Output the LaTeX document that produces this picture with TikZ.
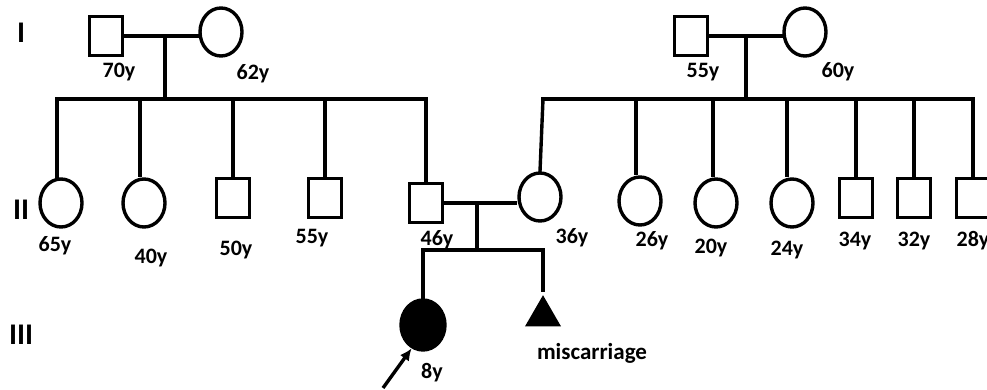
\documentclass[tikz,border=0pt]{standalone}
\usepackage{fontspec}
\setmainfont{Carlito}
\usetikzlibrary{shapes.geometric,arrows.meta}
\begin{document}
\begin{tikzpicture}[x=1pt,y=-1pt,
  line width=3.4pt,
  link/.style={line cap=rect},
  male/.style={draw, rectangle, minimum width=33pt, minimum height=39pt, inner sep=0pt},
  female/.style={draw, ellipse, minimum width=42pt, minimum height=48pt, inner sep=0pt},
  affected/.style={female, fill=black, minimum width=44pt, minimum height=50pt},
  loss/.style={regular polygon, regular polygon sides=3, minimum size=41.6pt, inner sep=0pt, fill=black},
  age/.style={font=\fontsize{22}{25}\selectfont\bfseries, inner sep=0pt},
  gen/.style={font=\fontsize{30}{34}\selectfont\bfseries, inner sep=0pt},
  ]
\useasboundingbox (0,0) rectangle (987,390);
\clip (0,0) rectangle (987,390);

% generation numerals
\node[gen] (gI)   at (21,33)  {I};
\node[gen] (gII)  at (21,210) {II};
\node[gen] (gIII) at (21,335) {III};

% generation I, paternal couple
\node[male]   (pgf) at (106,36) {};
\node[female] (pgm) at (221,32) {};
\node[age] (apgf) at (119,72) {70y};
\node[age] (apgm) at (253,74) {62y};
\draw[link] (pgf.east) -- (pgf.east -| pgm.west);
\coordinate (pd1) at (165,36);
\coordinate (pd2) at (165,99);
\draw (pd1) -- (pd2);

% generation I, maternal couple
\node[male]   (mgf) at (691,36) {};
\node[female] (mgm) at (805,32) {};
\node[age] (amgf) at (703,72) {55y};
\node[age] (amgm) at (838,72) {60y};
\draw[link] (mgf.east) -- (mgf.east -| mgm.west);
\coordinate (md1) at (746,36);
\coordinate (md2) at (746,99);
\draw (md1) -- (md2);

% generation II, paternal sibship
\coordinate (ps0) at (57,99);
\coordinate (ps1) at (140,99);
\coordinate (ps2) at (233,99);
\coordinate (ps3) at (325,99);
\coordinate (ps4) at (426,99);
\draw[link] (ps0) -- (ps4);
\node[female] (a1) at (61,203)  {};
\node[female] (a2) at (144,203) {};
\node[male]   (a3) at (233,198) {};
\node[male]   (a4) at (325,198) {};
\node[male]   (fa) at (426,203) {};
\draw[link] (ps0) -- (ps0 |- a1.north);
\draw (ps1) -- (ps1 |- a2.north);
\draw (ps2) -- (a3.north);
\draw (ps3) -- (a4.north);
\draw[link] (ps4) -- (fa.north);
\node[age] at (55,246)  {65y};
\node[age] at (151,258) {40y};
\node[age] at (236,250) {50y};
\node[age] at (312,238) {55y};
\node[age] at (437,240) {46y};

% generation II, maternal sibship
\coordinate (ms0) at (543,99);
\coordinate (ms1) at (636,99);
\coordinate (ms2) at (713,99);
\coordinate (ms3) at (787,99);
\coordinate (ms4) at (856,99);
\coordinate (ms5) at (914,99);
\coordinate (ms6) at (973,99);
\draw[link] (ms0) -- (ms6);
\node[female] (mo) at (540,197) {};
\node[female] (b1) at (640,201) {};
\node[female] (b2) at (716,203) {};
\node[female] (b3) at (792,203) {};
\node[male]   (b4) at (856,198) {};
\node[male]   (b5) at (914,198) {};
\node[male]   (b6) at (973,198) {};
\draw[link] (ms0) -- (mo.north);
\draw (ms1) -- (ms1 |- b1.north);
\draw (ms2) -- (ms2 |- b2.north);
\draw (ms3) -- (ms3 |- b3.north);
\draw (ms4) -- (b4.north);
\draw (ms5) -- (b5.north);
\draw[link] (ms6) -- (b6.north);
\node[age] at (572,238) {36y};
\node[age] at (652,241) {26y};
\node[age] at (711,248) {20y};
\node[age] at (787,250) {24y};
\node[age] at (855,241) {34y};
\node[age] at (914,241) {32y};
\node[age] at (973,241) {28y};

% parents' union and their offspring
\draw (fa.east) -- (fa.east -| mo.west);
\coordinate (cd1) at (477,203);
\coordinate (cd2) at (477,250);
\draw (cd1) -- (cd2);
\coordinate (cs0) at (423,250);
\coordinate (cs1) at (543,250);
\draw[link] (cs0) -- (cs1);
\node[affected] (pro) at (423,325) {};
\node[loss] (mis) at (543,316) {};
\draw[link] (cs0) -- (pro.north);
\draw[link] (cs1) -- (543,290);
\node[age] at (432,373) {8y};
\node[font=\fontsize{23}{26}\selectfont\bfseries, inner sep=0pt, anchor=base] (mtxt) at (592,359) {miscarriage};

% proband arrow
\coordinate (arr) at (383,388);
\draw[-{Latex[length=12pt,width=11pt]}] (arr) -- (pro.244);
\end{tikzpicture}
\end{document}
